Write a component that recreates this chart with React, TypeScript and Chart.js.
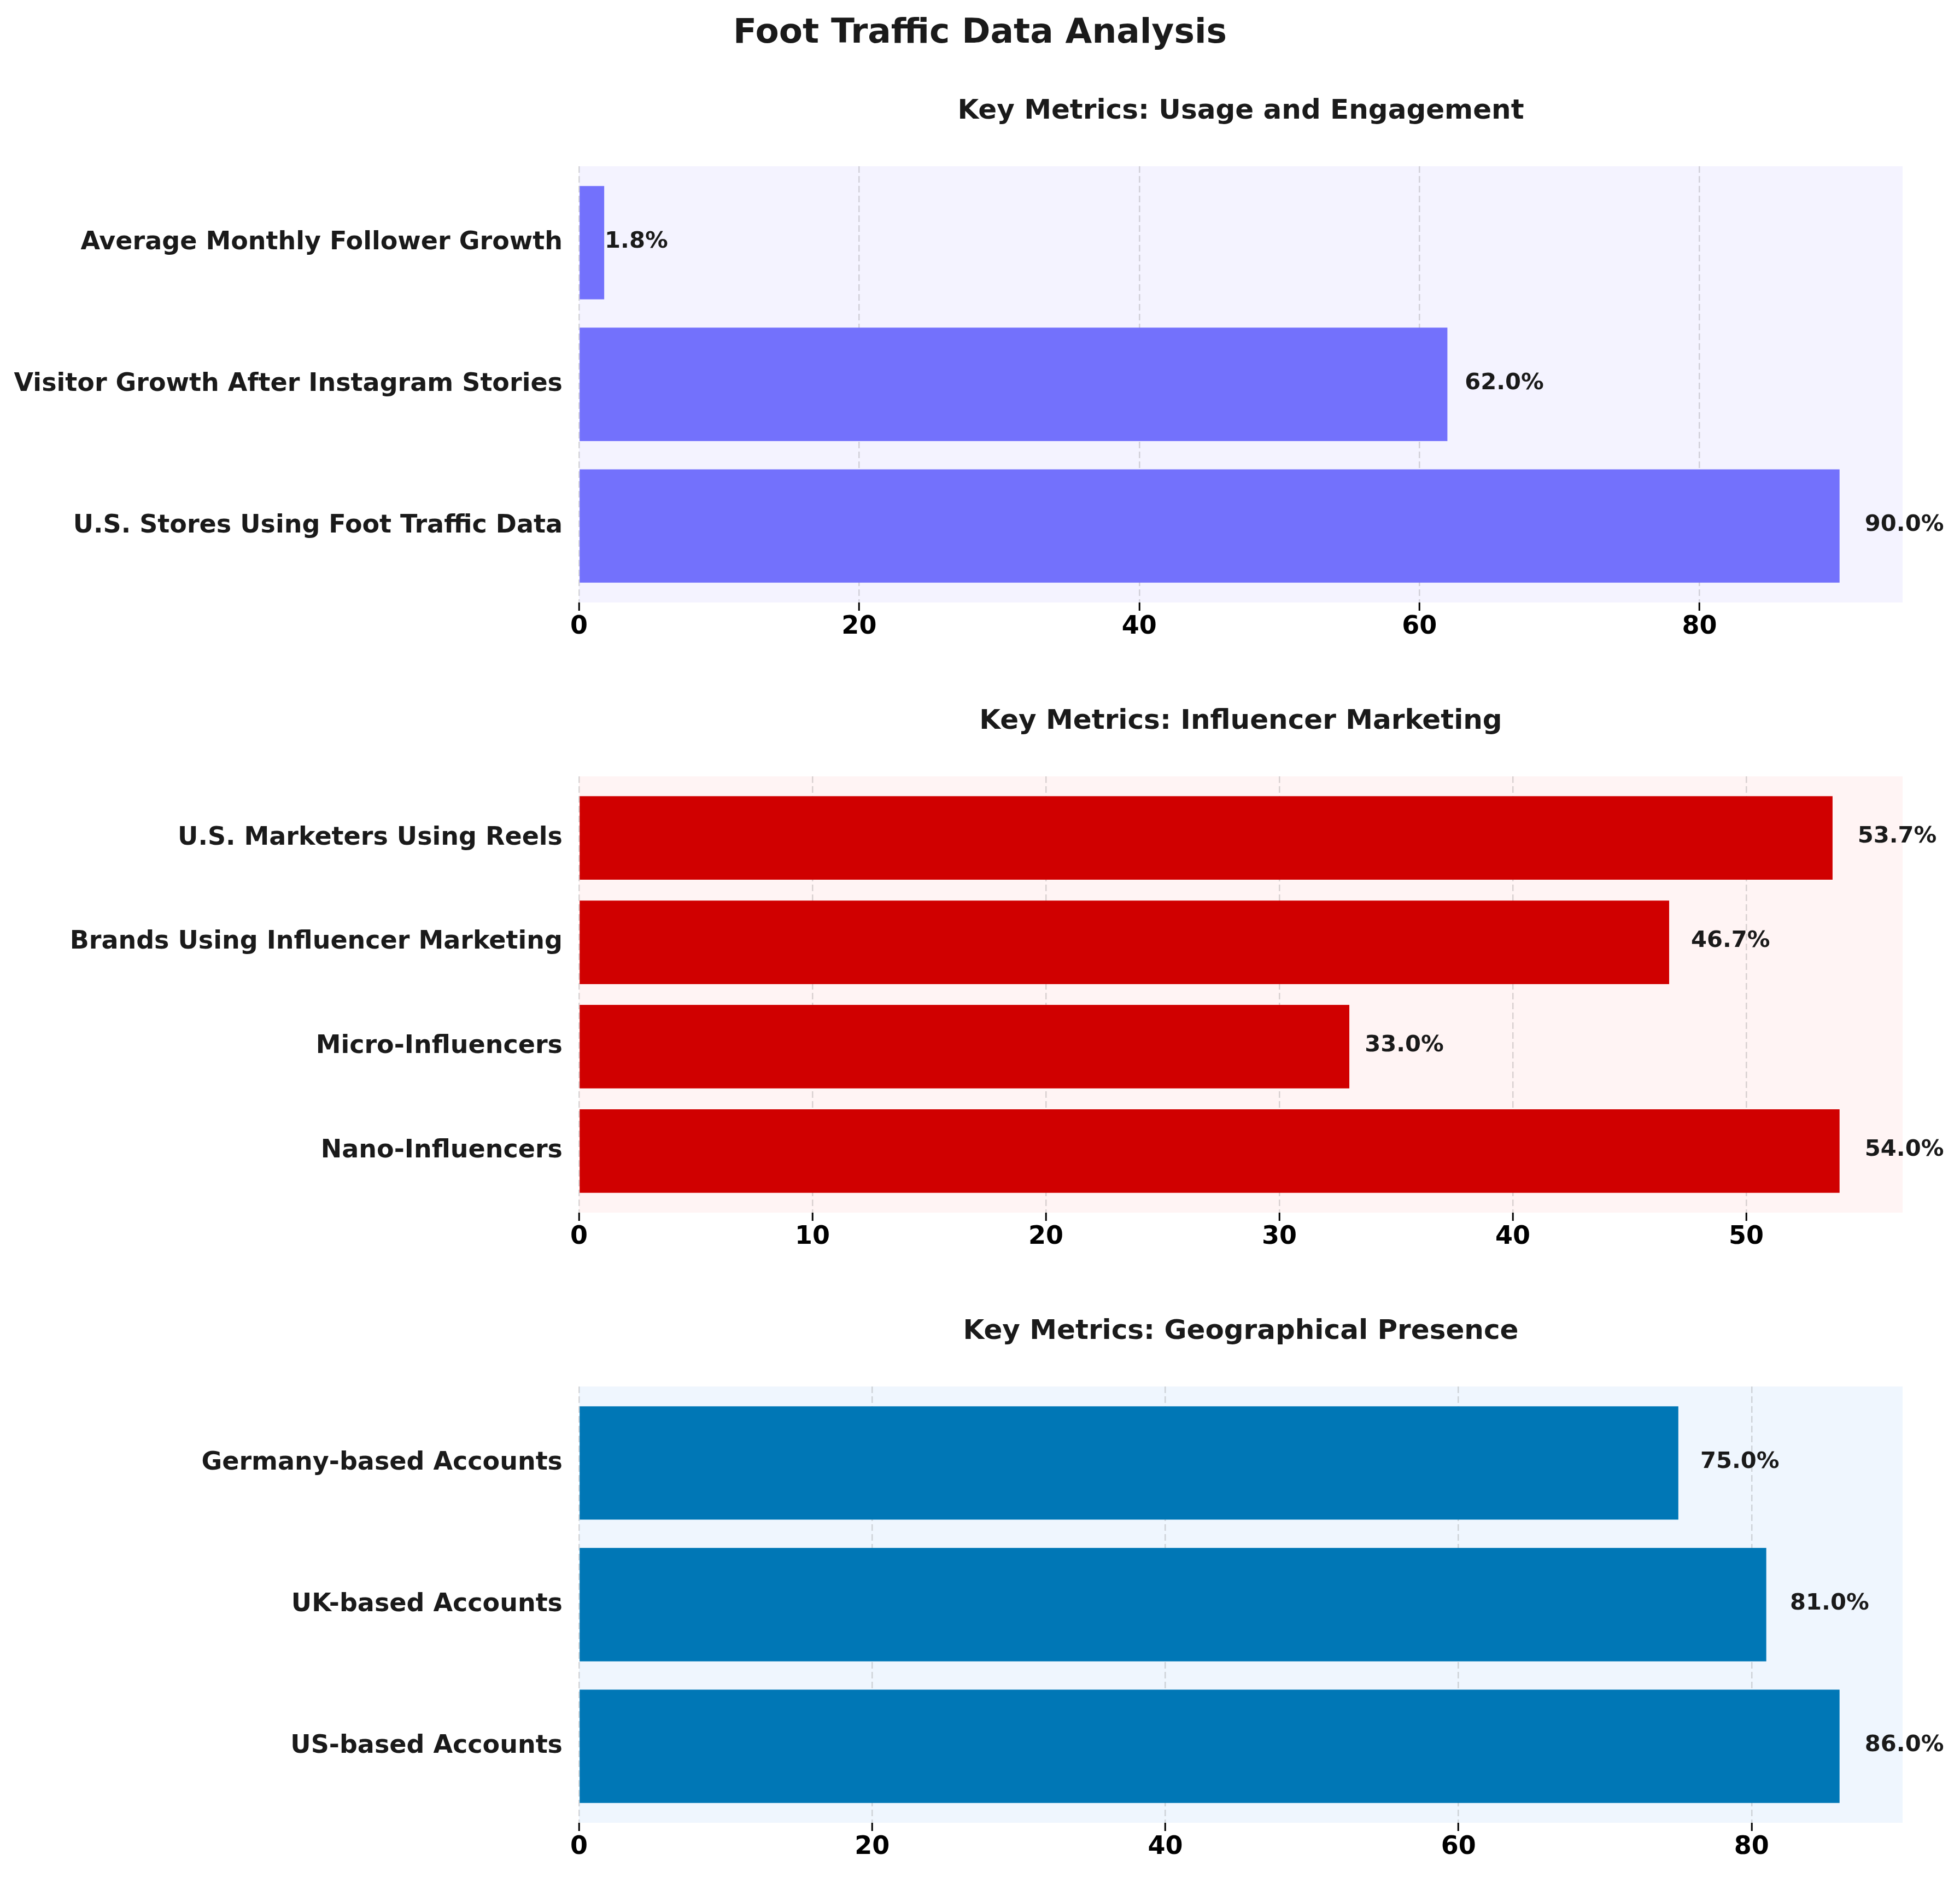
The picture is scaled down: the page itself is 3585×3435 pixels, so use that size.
import React, { useEffect, useRef } from 'react';
import { Chart, registerables } from 'chart.js';

Chart.register(...registerables);

const FONT = 'DejaVu Sans';
const TEXT = '#1a1a1a';

// Panel 1 — bottom-to-top order (as in the source figure)
const usageLabels = [
  'U.S. Stores Using Foot Traffic Data',
  'Visitor Growth After Instagram Stories',
  'Average Monthly Follower Growth',
];
const usageValues = [90.0, 62.0, 1.8];
const usageTicks = [0, 20, 40, 60, 80];

// Panel 2
const influencerLabels = [
  'Nano-Influencers',
  'Micro-Influencers',
  'Brands Using Influencer Marketing',
  'U.S. Marketers Using Reels',
];
const influencerValues = [54.0, 33.0, 46.7, 53.7];
const influencerTicks = [0, 10, 20, 30, 40, 50];

// Panel 3
const geoLabels = ['US-based Accounts', 'UK-based Accounts', 'Germany-based Accounts'];
const geoValues = [86.0, 81.0, 75.0];
const geoTicks = [0, 20, 40, 60, 80];

const W = 3585;
const H = 3435;
const CANVAS_H = 1098;
const BAR = 0.8;
const MARGIN = 0.05;

type PanelProps = {
  top: number;
  title: string;
  labels: string[];
  values: number[];
  ticks: number[];
  color: string;
  bg: string;
};

function Panel({ top, title, labels, values, ticks, color, bg }: PanelProps) {
  const ref = useRef<HTMLCanvasElement>(null);

  useEffect(() => {
    if (!ref.current) return;
    const bgPlugin = {
      id: 'bgFill',
      beforeDraw(chart: any) {
        const { ctx, chartArea } = chart;
        ctx.save();
        ctx.fillStyle = bg;
        ctx.fillRect(chartArea.left, chartArea.top, chartArea.width, chartArea.height);
        ctx.restore();
      },
    };
    const valuePlugin = {
      id: 'valueLabels',
      afterDraw(chart: any) {
        const { ctx } = chart;
        const xs = chart.scales.x;
        const ys = chart.scales.y;
        ctx.save();
        ctx.font = `bold 41.7px "${FONT}"`;
        ctx.fillStyle = TEXT;
        ctx.textAlign = 'left';
        ctx.textBaseline = 'middle';
        values.forEach((v, i) => {
          ctx.fillText(`${v.toFixed(1)}%`, xs.getPixelForValue(v * 1.02), ys.getPixelForValue(i) - 2);
        });
        ctx.restore();
      },
    };
    const maxV = Math.max(...values);
    const n = labels.length;
    const span = n - 1 + BAR;
    const yMin = -BAR / 2 - MARGIN * span;
    const yMax = n - 1 + BAR / 2 + MARGIN * span;
    const chart = new Chart(ref.current, {
      type: 'bar',
      data: {
        datasets: [
          {
            data: values.map((v, i) => ({ x: v, y: i })),
            backgroundColor: color,
            borderWidth: 0,
            barPercentage: BAR,
            categoryPercentage: 1,
          },
        ],
      },
      options: {
        indexAxis: 'y',
        responsive: false,
        maintainAspectRatio: false,
        animation: false,
        devicePixelRatio: 1,
        layout: { padding: { left: 0, right: 105, top: 0, bottom: 0 } },
        plugins: {
          legend: { display: false },
          tooltip: { enabled: false },
          title: {
            display: true,
            text: title,
            fullSize: false,
            align: 'center',
            color: TEXT,
            font: { family: FONT, size: 50, weight: 'bold', lineHeight: 1.2 },
            padding: { top: 70, bottom: 70 },
          },
        },
        scales: {
          x: {
            type: 'linear',
            position: 'bottom',
            offset: false,
            min: 0,
            max: maxV * (1 + MARGIN),
            z: 1,
            afterBuildTicks: (s: any) => {
              s.ticks = ticks.map((v) => ({ value: v }));
            },
            afterFit: (s: any) => {
              s.height = 100;
            },
            grid: {
              display: true,
              offset: false,
              drawOnChartArea: true,
              drawTicks: true,
              color: 'rgba(128,128,128,0.3)',
              lineWidth: 2.5,
              tickLength: 15,
              tickColor: '#000',
              tickWidth: 3,
            },
            border: { display: false, dash: [12, 6] },
            ticks: {
              color: '#000',
              padding: 2,
              autoSkip: false,
              maxRotation: 0,
              font: { family: FONT, size: 46, weight: 'bold' },
            },
          },
          y: {
            type: 'linear',
            position: 'left',
            offset: false,
            min: yMin,
            max: yMax,
            afterBuildTicks: (s: any) => {
              s.ticks = labels.map((_, i) => ({ value: i }));
            },
            afterFit: (s: any) => {
              s.width = 1059;
            },
            grid: { display: false, drawTicks: false, offset: false },
            border: { display: false },
            ticks: {
              color: TEXT,
              padding: 30,
              autoSkip: false,
              font: { family: FONT, size: 46, weight: 'bold' },
              callback: (v: any) => labels[Math.round(Number(v))] ?? '',
            },
          },
        },
      },
      plugins: [bgPlugin, valuePlugin],
    } as any);
    return () => chart.destroy();
  }, []);

  return (
    <canvas
      ref={ref}
      width={W}
      height={CANVAS_H}
      style={{ position: 'absolute', left: 0, top, width: W, height: CANVAS_H, display: 'block' }}
    />
  );
}

export default function App() {
  return (
    <div
      style={{
        position: 'absolute',
        left: 0,
        top: 0,
        width: W,
        height: H,
        overflow: 'hidden',
        background: '#ffffff',
      }}
    >
      <div
        style={{
          position: 'absolute',
          left: 0,
          top: 25,
          width: W,
          textAlign: 'center',
          fontFamily: FONT,
          fontWeight: 'bold',
          fontSize: 63,
          lineHeight: '63px',
          color: TEXT,
        }}
      >
        Foot Traffic Data Analysis
      </div>
      <Panel
        top={104}
        title="Key Metrics: Usage and Engagement"
        labels={usageLabels}
        values={usageValues}
        ticks={usageTicks}
        color="#7371FC"
        bg="#F4F3FF"
      />
      <Panel
        top={1220}
        title="Key Metrics: Influencer Marketing"
        labels={influencerLabels}
        values={influencerValues}
        ticks={influencerTicks}
        color="#D00000"
        bg="#FFF4F4"
      />
      <Panel
        top={2336}
        title="Key Metrics: Geographical Presence"
        labels={geoLabels}
        values={geoValues}
        ticks={geoTicks}
        color="#0077B6"
        bg="#EFF6FE"
      />
    </div>
  );
}
